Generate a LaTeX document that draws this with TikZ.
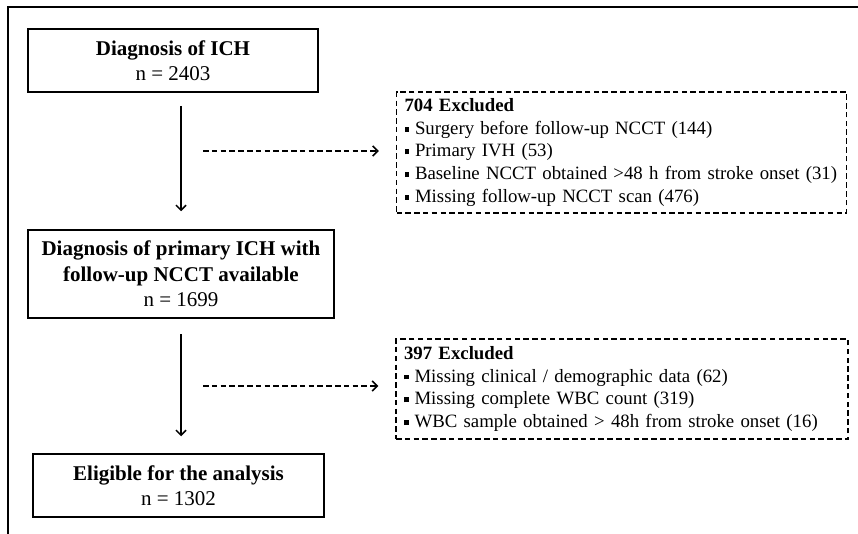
\documentclass[tikz,border=0pt]{standalone}
\usepackage{fontspec}
\setmainfont{Liberation Serif}
\usetikzlibrary{arrows.meta}

\newcommand{\sqbul}{\raisebox{0.14em}{\rule{0.26em}{0.26em}}\hspace{0.3em}}

\begin{document}
\begin{tikzpicture}[x=1pt,y=-1pt,
  mainbox/.style={draw,line width=1.5pt,align=center,inner sep=0pt,
    font=\fontsize{21}{25.5}\selectfont},
  exbox/.style={draw,dashed,dash pattern=on 5.5pt off 3.3pt,line width=1.5pt,
    align=left,inner sep=0pt,font=\fontsize{18.8}{22.8}\selectfont},
  arr/.style={line width=1.5pt,-{Straight Barb[length=5pt,width=10pt,line width=1.5pt]}},
  darr/.style={arr,dash pattern=on 5.5pt off 3.3pt}]
  \useasboundingbox (0,0) rectangle (858,534);

  % frame
  \draw[line width=2pt] (7.5,534) -- (7.5,7.5) -- (858,7.5);

  % main flow
  \node[mainbox,minimum width=290,minimum height=63] (ich) at (173,60.5)
    {\textbf{Diagnosis of ICH}\\n = 2403};
  \node[mainbox,minimum width=306,minimum height=88] (prim) at (181,274)
    {\textbf{Diagnosis of primary ICH with}\\\textbf{follow-up NCCT available}\\n = 1699};
  \node[mainbox,minimum width=291,minimum height=63] (elig) at (178.5,485.5)
    {\textbf{Eligible for the analysis}\\n = 1302};

  % exclusions
  \node[exbox,minimum width=450,minimum height=121,text width=434] (exA) at (621.5,152.5)
    {\textbf{704 Excluded}\\
     \sqbul Surgery before follow-up NCCT (144)\\
     \sqbul Primary IVH (53)\\
     \sqbul Baseline NCCT obtained >48 h from stroke onset (31)\\
     \sqbul Missing follow-up NCCT scan (476)};
  \node[exbox,minimum width=452,minimum height=100,text width=436] (exB) at (622,389)
    {\textbf{397 Excluded}\\
     \sqbul Missing clinical / demographic data (62)\\
     \sqbul Missing complete WBC count (319)\\
     \sqbul WBC sample obtained > 48h from stroke onset (16)};

  % arrows
  \coordinate (a1) at (181,106);
  \coordinate (a2) at (181,334);
  \draw[arr,shorten >=18pt] (a1) -- (a1 |- prim.north);
  \draw[arr,shorten >=17pt] (a2) -- (a2 |- elig.north);
  \coordinate (d1) at (203,151);
  \coordinate (d2) at (203,386);
  \draw[darr,shorten >=17pt] (d1) -- (d1 -| exA.west);
  \draw[darr,shorten >=17pt] (d2) -- (d2 -| exB.west);
\end{tikzpicture}
\end{document}
